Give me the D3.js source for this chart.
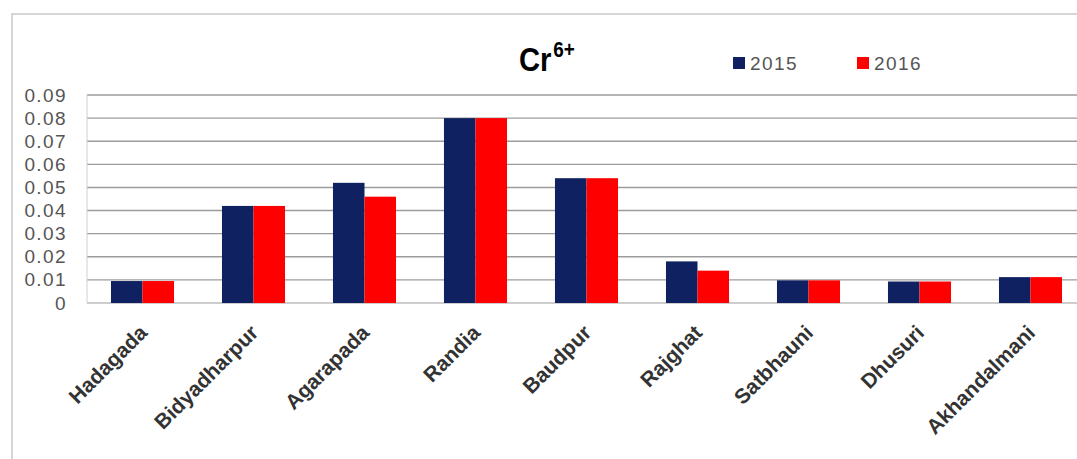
<!DOCTYPE html>
<html>
<head>
<meta charset="utf-8">
<script src="https://cdn.jsdelivr.net/npm/d3@7"></script>
<style>
  html, body { margin: 0; padding: 0; background: #fff; }
  svg { display: block; }
</style>
</head>
<body>
<svg id="chart" width="1077" height="459"></svg>
<script>
// Sampling sites along the x axis
const sites = ["Hadagada", "Bidyadharpur", "Agarapada", "Randia", "Baudpur",
               "Rajghat", "Satbhauni", "Dhusuri", "Akhandalmani"];
// Cr6+ concentration per site
const years = ["2015", "2016"];
const values2015 = [0.0095, 0.042, 0.052, 0.080, 0.054, 0.018, 0.0098, 0.0093, 0.0112];
const values2016 = [0.0095, 0.042, 0.046, 0.080, 0.054, 0.014, 0.0098, 0.0093, 0.0112];
const yTicks = [0, 0.01, 0.02, 0.03, 0.04, 0.05, 0.06, 0.07, 0.08, 0.09];
const colors = ["#0f2161", "#ff0000"];

const seriesValues = [values2015, values2016];
const rows = sites.map((s, i) => ({ site: s, vals: years.map((y, k) => ({ year: y, k, v: seriesValues[k][i] })) }));

const svg = d3.select("#chart");

// chart frame
svg.append("rect")
  .attr("x", 12).attr("y", 14)
  .attr("width", 1100).attr("height", 470)
  .attr("fill", "#fff")
  .attr("stroke", "#d6d6d6").attr("stroke-width", 2);

const plot = { left: 87, right: 1086, top: 95, bottom: 303 };

const x = d3.scaleBand().domain(sites)
  .range([plot.left, plot.right])
  .paddingInner(0.432).paddingOuter(0.216);
const xs = d3.scaleBand().domain(years).range([0, x.bandwidth()]);
const y = d3.scaleLinear().domain([0, 0.09]).range([plot.bottom, plot.top]);

// horizontal gridlines
svg.append("g").selectAll("line").data(yTicks).join("line")
  .attr("x1", plot.left).attr("x2", 1077)
  .attr("y1", d => y(d)).attr("y2", d => y(d))
  .attr("stroke", d => d === 0 ? "#bdbdbd" : "#9c9c9c")
  .attr("stroke-width", 1.4);

// vertical axis line
svg.append("line")
  .attr("x1", plot.left).attr("x2", plot.left)
  .attr("y1", plot.top).attr("y2", plot.bottom)
  .attr("stroke", "#d0d0d0").attr("stroke-width", 1);

// y axis labels
const yAxis = d3.axisLeft(y).tickValues(yTicks)
  .tickFormat(d => d === 0 ? "0" : d3.format(".2f")(d))
  .tickSize(0).tickPadding(0);
const gy = svg.append("g").attr("transform", "translate(67,0)").call(yAxis);
gy.select(".domain").remove();
gy.selectAll("text")
  .attr("fill", "#555")
  .style("font-family", "'Liberation Sans', Arial, sans-serif")
  .style("font-size", "19px")
  .style("letter-spacing", "1.4px");

// bars
svg.append("g").selectAll("g").data(rows).join("g")
  .attr("transform", d => `translate(${x(d.site)},0)`)
  .selectAll("rect").data(d => d.vals).join("rect")
  .attr("x", d => xs(d.year))
  .attr("width", xs.bandwidth())
  .attr("y", d => y(d.v))
  .attr("height", d => y(0) - y(d.v))
  .attr("fill", d => colors[d.k]);

// x axis labels, rotated
svg.append("g").selectAll("text").data(sites).join("text")
  .attr("transform", d => `translate(${x(d) + x.bandwidth() / 2 + 6},334) rotate(-45)`)
  .attr("text-anchor", "end")
  .attr("fill", "#333")
  .style("font-family", "'Liberation Sans', Arial, sans-serif")
  .style("font-weight", "bold")
  .style("font-size", "21px")
  .text(d => d);

// title
const title = svg.append("text")
  .attr("transform", "translate(519,71) scale(0.86,1)")
  .style("font-family", "'Liberation Sans', Arial, sans-serif")
  .style("font-weight", "bold")
  .attr("fill", "#000");
title.append("tspan").style("font-size", "34px").text("Cr");
title.append("tspan").attr("dx", 2).attr("dy", -14).style("font-size", "22px").text("6+");

// legend
const legend = svg.append("g").selectAll("g").data(years).join("g")
  .attr("transform", (d, i) => `translate(${733 + i * 124},57)`);
legend.append("rect").attr("width", 12).attr("height", 12)
  .attr("fill", (d, i) => colors[i]);
legend.append("text")
  .attr("x", 17).attr("y", 12.5)
  .attr("fill", "#555")
  .style("font-family", "'Liberation Sans', Arial, sans-serif")
  .style("font-size", "19px")
  .style("letter-spacing", "1.4px")
  .text(d => d);
</script>
</body>
</html>
